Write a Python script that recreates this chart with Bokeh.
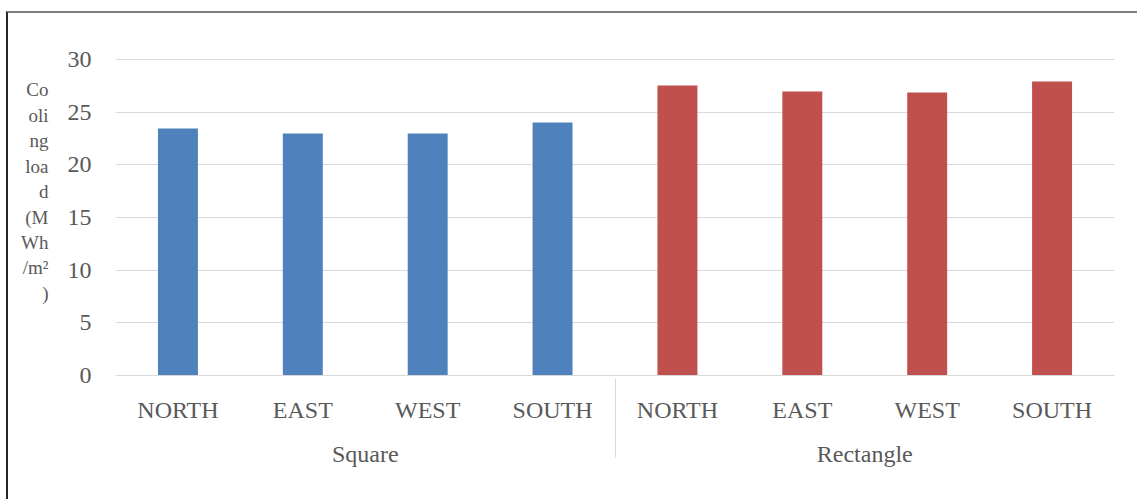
from bokeh.plotting import figure
from bokeh.models import FactorRange, Range1d, ColumnDataSource, FixedTicker
from bokeh.layouts import column
from bokeh.embed import file_html
from bokeh.resources import INLINE

groups = ["Square", "Rectangle"]
directions = ["NORTH", "EAST", "WEST", "SOUTH"]
square_vals = [23.45, 22.98, 22.98, 24.03]
rect_vals = [27.54, 26.97, 26.87, 27.92]
y_ticks = [0, 5, 10, 15, 20, 25, 30]
group_colors = ["#4F81BD", "#C0504D"]
ylabel_lines = ["Co", "oli", "ng", "loa", "d", "(M", "Wh", "/m²", ")"]

FONT = "Liberation Serif"
TXT = "#595959"
GRID = "#D9D9D9"

xs, tops, cols = [], [], []
for g, vals, c in zip(groups, [square_vals, rect_vals], group_colors):
    for d, v in zip(directions, vals):
        xs.append((g, d))
        tops.append(v)
        cols.append(c)
src = ColumnDataSource(dict(x=xs, top=tops, color=cols))

Y_END = 30.1
p = figure(
    x_range=FactorRange(*xs, factor_padding=0, group_padding=0, range_padding=0),
    y_range=Range1d(0, Y_END),
    width=1129, height=486,
    min_border_left=107, min_border_right=23, min_border_top=45, min_border_bottom=124,
    output_backend="svg", toolbar_location=None,
)
p.vbar(x="x", top="top", width=0.32, color="color", line_color=None, source=src)

p.outline_line_color = None
p.background_fill_color = "white"
p.border_fill_color = "white"

p.xgrid.grid_line_color = None
p.ygrid.grid_line_color = GRID
p.ygrid.grid_line_width = 1

ya = p.yaxis[0]
ya.ticker = FixedTicker(ticks=y_ticks)
ya.axis_line_color = None
ya.major_tick_line_color = None
ya.minor_tick_line_color = None
ya.major_label_standoff = 18
ya.major_label_text_font = FONT
ya.major_label_text_font_size = "24px"
ya.major_label_text_color = TXT
ya.axis_label = "\n".join(ylabel_lines + ["\u00a0", "\u00a0"])
ya.axis_label_text_font = FONT
ya.axis_label_text_font_size = "19px"
ya.axis_label_text_font_style = "normal"
ya.axis_label_text_color = TXT
ya.axis_label_text_line_height = 1.21
ya.axis_label_text_align = "left"
ya.axis_label_standoff = 16
if "axis_label_orientation" in ya.properties():
    ya.axis_label_orientation = "horizontal"

xa = p.xaxis[0]
xa.axis_line_color = GRID
xa.axis_line_width = 1
xa.major_tick_line_color = None
xa.minor_tick_line_color = None
xa.major_label_text_font = FONT
xa.major_label_text_font_size = "24px"
xa.major_label_text_color = TXT
xa.major_label_standoff = 15
for pre in ("group", "subgroup"):
    setattr(xa, pre + "_text_font", FONT)
    setattr(xa, pre + "_text_font_size", "24px")
    setattr(xa, pre + "_text_color", TXT)
    setattr(xa, pre + "_text_font_style", "normal")
xa.group_text_baseline = "middle"
xa.separator_line_color = GRID
xa.separator_line_width = 1

layout = column(p, styles={"border-top": "2px solid #7F7F7F", "border-left": "2px solid #262626",
                           "margin-top": "11px", "margin-left": "6px"})

open("out.html", "w").write(file_html(layout, INLINE))
